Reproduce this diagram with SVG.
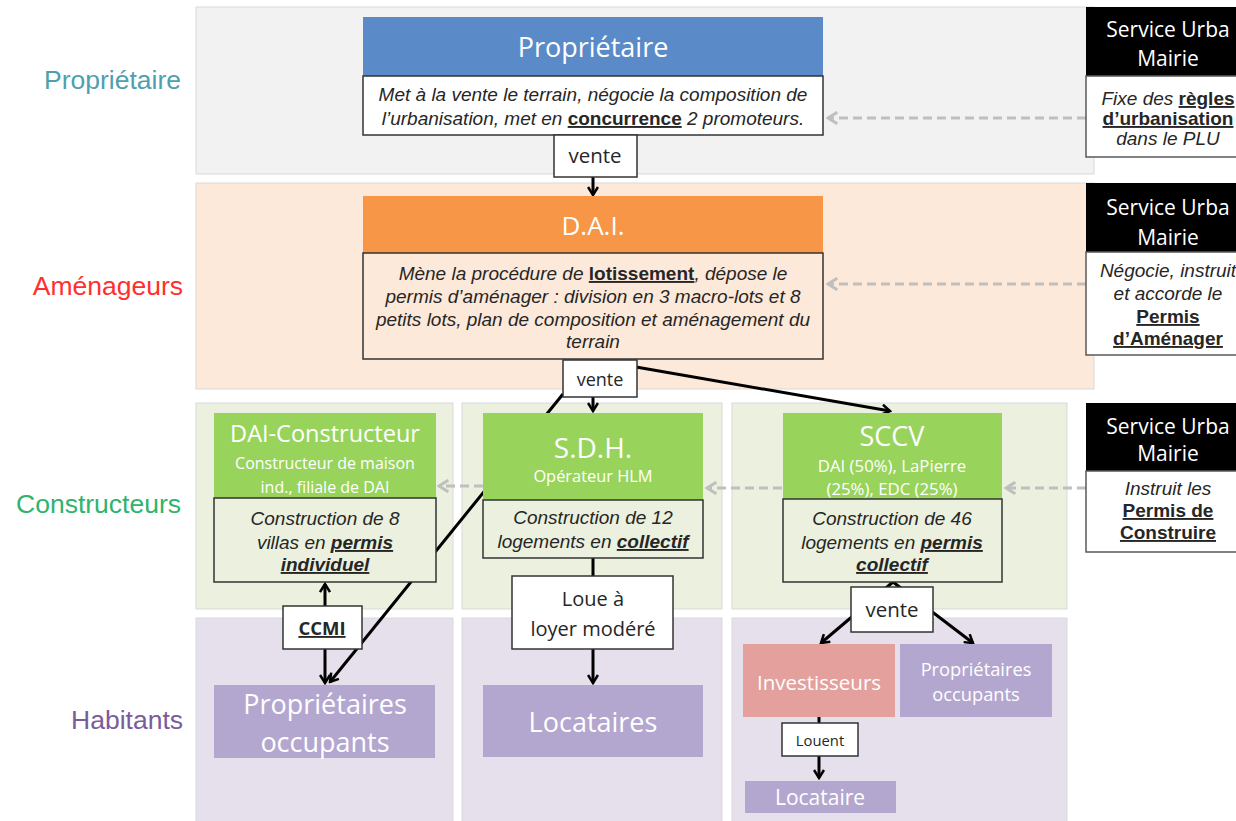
<svg xmlns="http://www.w3.org/2000/svg" width="1236" height="821" viewBox="0 0 1236 821">
<defs>
<style>
.row{font-family:"Liberation Sans",Arial,sans-serif;font-size:26.5px;text-anchor:end}
.hd{font-family:"Open Sans","Noto Sans",sans-serif;fill:#fff;text-anchor:middle}
.lb{font-family:"Open Sans","Noto Sans",sans-serif;fill:#262626;text-anchor:middle}
.ds{font-family:"Liberation Sans",Arial,sans-serif;font-size:19px;font-style:italic;fill:#262626;text-anchor:middle}
.b{font-weight:bold;text-decoration:underline}
.bu{font-weight:bold;font-style:normal;text-decoration:underline}
.box{fill:#fff;stroke:#333;stroke-width:1.5}
.desc{stroke:#333;stroke-width:1.5}
.con{stroke:#000;stroke-width:3;fill:none}
.dash{stroke:#bfbfbf;stroke-width:3;fill:none;stroke-dasharray:9,5}
.svh{fill:#000}
.svb{fill:#fff;stroke:#595959;stroke-width:1.5}
</style>
<marker id="ar" viewBox="0 0 12 12" refX="10" refY="6" markerWidth="12" markerHeight="12" markerUnits="userSpaceOnUse" orient="auto">
<path d="M2,1 L10,6 L2,11" fill="none" stroke="#000" stroke-width="2.5"/>
</marker>
<marker id="ag" viewBox="0 0 12 12" refX="10" refY="6" markerWidth="14" markerHeight="14" markerUnits="userSpaceOnUse" orient="auto">
<path d="M2,1 L10,6 L2,11" fill="none" stroke="#bfbfbf" stroke-width="2.5"/>
</marker>
</defs>

<g id="bands">
<rect x="196" y="7" width="898" height="167" fill="#f2f2f2" stroke="#d9d9d9"/>
<rect x="196" y="183" width="898" height="206" fill="#fde9d9" stroke="#d9d9d9"/>
<rect x="196" y="403" width="257" height="206" fill="#ebf1de" stroke="#d9d9d9"/>
<rect x="462" y="403" width="260" height="206" fill="#ebf1de" stroke="#d9d9d9"/>
<rect x="732" y="403" width="335" height="206" fill="#ebf1de" stroke="#d9d9d9"/>
<rect x="196" y="618" width="257" height="210" fill="#e5e0ec" stroke="#d9d9d9"/>
<rect x="462" y="618" width="260" height="210" fill="#e5e0ec" stroke="#d9d9d9"/>
<rect x="732" y="618" width="335" height="210" fill="#e5e0ec" stroke="#d9d9d9"/>
</g>

<g id="row-labels">
<text class="row" x="181" y="89" fill="#4f9fb0">Propriétaire</text>
<text class="row" x="183" y="295" fill="#ff2f2f">Aménageurs</text>
<text class="row" x="181" y="513" fill="#2fb36d">Constructeurs</text>
<text class="row" x="183" y="729" fill="#7a5c9c">Habitants</text>
</g>

<g id="connectors">
<line class="con" x1="593" y1="170" x2="593" y2="195" marker-end="url(#ar)"/>
<line class="con" x1="593" y1="380" x2="593" y2="411" marker-end="url(#ar)"/>
<line class="con" x1="563" y1="394" x2="330" y2="682" marker-end="url(#ar)"/>
<line class="con" x1="636" y1="367" x2="890" y2="411" marker-end="url(#ar)"/>
<line class="con" x1="593" y1="558" x2="593" y2="580"/>
<line class="con" x1="593" y1="640" x2="593" y2="683" marker-end="url(#ar)"/>
<line class="con" x1="325" y1="610" x2="325" y2="584" marker-end="url(#ar)"/>
<line class="con" x1="325" y1="645" x2="325" y2="683" marker-end="url(#ar)"/>
<line class="con" x1="893" y1="582" x2="821" y2="643" marker-end="url(#ar)"/>
<line class="con" x1="893" y1="582" x2="973" y2="643" marker-end="url(#ar)"/>
<line class="con" x1="819" y1="716" x2="819" y2="726"/>
<line class="con" x1="819" y1="752" x2="819" y2="778" marker-end="url(#ar)"/>
<line class="dash" x1="1086" y1="118" x2="828" y2="118" marker-end="url(#ag)"/>
<line class="dash" x1="1086" y1="284" x2="828" y2="284" marker-end="url(#ag)"/>
<line class="dash" x1="1086" y1="488" x2="1006" y2="488" marker-end="url(#ag)"/>
<line class="dash" x1="782" y1="488" x2="707" y2="488" marker-end="url(#ag)"/>
<line class="dash" x1="483" y1="486" x2="439" y2="486" marker-end="url(#ag)"/>
</g>

<g id="proprietaire">
<rect x="363" y="17" width="460" height="59" fill="#5a8bc8"/>
<text class="hd" x="593" y="57" font-size="27">Propriétaire</text>
<rect class="desc" x="363" y="76" width="460" height="59" fill="#fff"/>
<text class="ds" x="593" y="101">Met à la vente le terrain, négocie la composition de</text>
<text class="ds" x="593" y="125">l’urbanisation, met en <tspan class="bu">concurrence</tspan> 2 promoteurs.</text>
</g>

<g id="vente1">
<rect class="box" x="554" y="135" width="83" height="42"/>
<text class="lb" x="595" y="163" font-size="20.5">vente</text>
</g>

<g id="dai">
<rect x="363" y="196" width="460" height="57" fill="#f79646"/>
<text class="hd" x="593" y="235" font-size="26">D.A.I.</text>
<rect class="desc" x="363" y="253" width="460" height="106" fill="#fde9d9"/>
<text class="ds" x="593" y="280">Mène la procédure de <tspan class="bu">lotissement</tspan>, dépose le</text>
<text class="ds" x="593" y="303">permis d’aménager : division en 3 macro-lots et 8</text>
<text class="ds" x="593" y="326">petits lots, plan de composition et aménagement du</text>
<text class="ds" x="593" y="348">terrain</text>
</g>

<g id="vente2">
<rect class="box" x="563" y="360" width="74" height="37"/>
<text class="lb" x="600" y="386" font-size="18">vente</text>
</g>

<g id="dai-constructeur">
<rect x="214" y="413" width="222" height="85" fill="#98d45c"/>
<text class="hd" x="325" y="442" font-size="23.5">DAI-Constructeur</text>
<text class="hd" x="325" y="469" font-size="16">Constructeur de maison</text>
<text class="hd" x="325" y="493" font-size="16">ind., filiale de DAI</text>
<rect class="desc" x="214" y="498" width="222" height="84" fill="#ebf1de"/>
<text class="ds" x="325" y="525">Construction de 8</text>
<text class="ds" x="325" y="549">villas en <tspan class="b">permis</tspan></text>
<text class="ds" x="325" y="571"><tspan class="b">individuel</tspan></text>
</g>

<g id="sdh">
<rect x="483" y="413" width="220" height="87" fill="#98d45c"/>
<text class="hd" x="593" y="458" font-size="28">S.D.H.</text>
<text class="hd" x="593" y="482" font-size="16.4">Opérateur HLM</text>
<rect class="desc" x="483" y="500" width="220" height="58" fill="#ebf1de"/>
<text class="ds" x="593" y="524">Construction de 12</text>
<text class="ds" x="593" y="548">logements en <tspan class="b">collectif</tspan></text>
</g>

<g id="sccv">
<rect x="783" y="413" width="219" height="86" fill="#98d45c"/>
<text class="hd" x="892" y="446" font-size="27">SCCV</text>
<text class="hd" x="892" y="472" font-size="16.8">DAI (50%), LaPierre</text>
<text class="hd" x="892" y="495" font-size="16.8">(25%), EDC (25%)</text>
<rect class="desc" x="783" y="499" width="219" height="83" fill="#ebf1de"/>
<text class="ds" x="892" y="525">Construction de 46</text>
<text class="ds" x="892" y="549">logements en <tspan class="b">permis</tspan></text>
<text class="ds" x="892" y="571"><tspan class="b">collectif</tspan></text>
</g>

<g id="ccmi">
<rect class="box" x="283" y="606" width="79" height="43"/>
<text class="lb" x="322" y="635" font-size="18.5" font-weight="bold" text-decoration="underline">CCMI</text>
</g>

<g id="loue">
<rect class="box" x="512" y="576" width="161" height="73"/>
<text class="lb" x="593" y="606" font-size="20">Loue à</text>
<text class="lb" x="593" y="636" font-size="20">loyer modéré</text>
</g>

<g id="vente3">
<rect class="box" x="851" y="587" width="82" height="45"/>
<text class="lb" x="892" y="617" font-size="20.5">vente</text>
</g>

<g id="proprietaires-occupants-1">
<rect x="214" y="685" width="221" height="73" fill="#b4a7cf"/>
<text class="hd" x="325" y="714" font-size="27">Propriétaires</text>
<text class="hd" x="325" y="752" font-size="27">occupants</text>
</g>

<g id="locataires">
<rect x="483" y="685" width="220" height="72" fill="#b4a7cf"/>
<text class="hd" x="593" y="732" font-size="27">Locataires</text>
</g>

<g id="investisseurs">
<rect x="743" y="644" width="152" height="73" fill="#e3a09d"/>
<text class="hd" x="819" y="690" font-size="20.5">Investisseurs</text>
</g>

<g id="proprietaires-occupants-2">
<rect x="900" y="644" width="152" height="73" fill="#b4a7cf"/>
<text class="hd" x="976" y="676" font-size="18.3">Propriétaires</text>
<text class="hd" x="976" y="701" font-size="18.3">occupants</text>
</g>

<g id="louent">
<rect class="box" x="782" y="723" width="76" height="33"/>
<text class="lb" x="820" y="746" font-size="14.8">Louent</text>
</g>

<g id="locataire">
<rect x="745" y="781" width="151" height="32" fill="#b4a7cf"/>
<text class="hd" x="820" y="805" font-size="21">Locataire</text>
</g>

<g id="service-urba-1">
<rect class="svh" x="1086" y="7" width="170" height="69"/>
<text class="hd" x="1168" y="37" font-size="21">Service Urba</text>
<text class="hd" x="1168" y="66" font-size="21">Mairie</text>
<rect class="svb" x="1086" y="76" width="170" height="81"/>
<text class="ds" x="1168" y="105">Fixe des <tspan class="bu">règles</tspan></text>
<text class="ds" x="1168" y="125"><tspan class="bu">d’urbanisation</tspan></text>
<text class="ds" x="1168" y="145">dans le PLU</text>
</g>

<g id="service-urba-2">
<rect class="svh" x="1086" y="183" width="170" height="69"/>
<text class="hd" x="1168" y="215" font-size="21">Service Urba</text>
<text class="hd" x="1168" y="245" font-size="21">Mairie</text>
<rect class="svb" x="1086" y="252" width="170" height="103"/>
<text class="ds" x="1168" y="277">Négocie, instruit</text>
<text class="ds" x="1168" y="300">et accorde le</text>
<text class="ds" x="1168" y="323"><tspan class="bu">Permis</tspan></text>
<text class="ds" x="1168" y="345"><tspan class="bu">d’Aménager</tspan></text>
</g>

<g id="service-urba-3">
<rect class="svh" x="1086" y="403" width="170" height="68"/>
<text class="hd" x="1168" y="434" font-size="21">Service Urba</text>
<text class="hd" x="1168" y="461" font-size="21">Mairie</text>
<rect class="svb" x="1086" y="471" width="170" height="81"/>
<text class="ds" x="1168" y="495">Instruit les</text>
<text class="ds" x="1168" y="517"><tspan class="bu">Permis de</tspan></text>
<text class="ds" x="1168" y="539"><tspan class="bu">Construire</tspan></text>
</g>
</svg>
